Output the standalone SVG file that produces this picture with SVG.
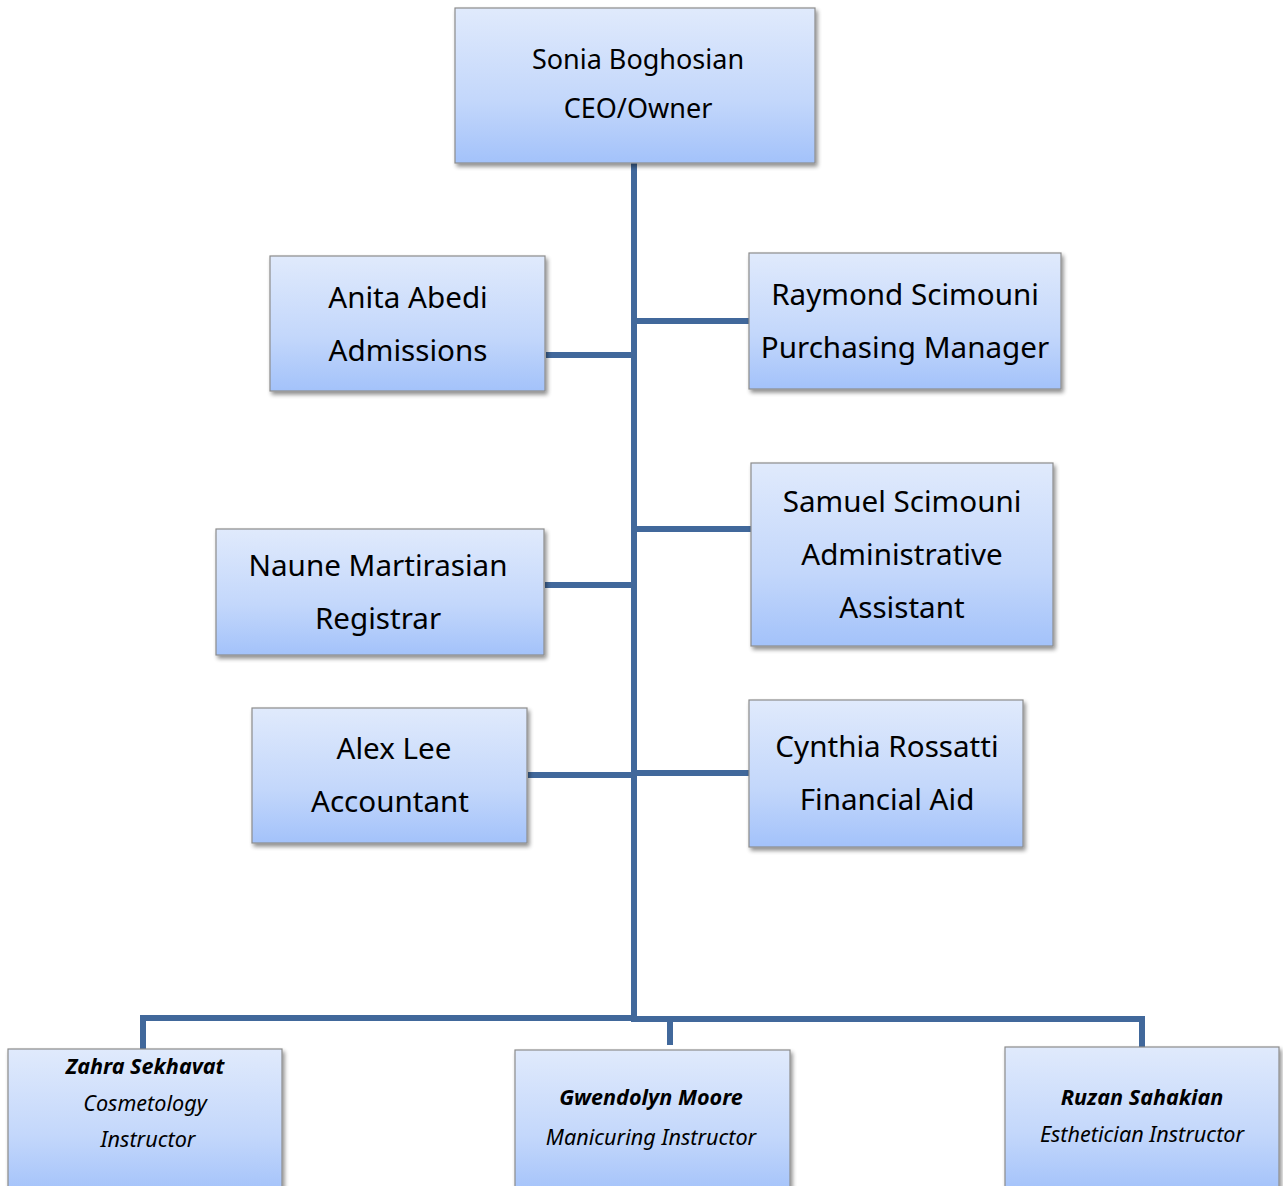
<svg xmlns="http://www.w3.org/2000/svg" width="1283" height="1186" viewBox="0 0 1283 1186">
<defs>
<linearGradient id="g" x1="0" y1="0" x2="0" y2="1">
<stop offset="0" stop-color="#e0eafc"/>
<stop offset="0.6" stop-color="#c3d7fb"/>
<stop offset="1" stop-color="#a3c2fa"/>
</linearGradient>
<filter id="sh" x="-5%" y="-5%" width="115%" height="120%">
<feGaussianBlur in="SourceAlpha" stdDeviation="2"/>
<feOffset dx="2" dy="3"/>
<feComponentTransfer><feFuncA type="linear" slope="0.45"/></feComponentTransfer>
<feMerge><feMergeNode/><feMergeNode in="SourceGraphic"/></feMerge>
</filter>
</defs>
<style>
.box{fill:url(#g);stroke:#8c8c8c;stroke-width:1.2;filter:url(#sh)}
.t{font-family:"Noto Sans","Open Sans",sans-serif;font-size:29.6px;fill:#000;text-anchor:middle}
.ceo{font-size:27px}
.s{font-family:"Noto Sans","Open Sans",sans-serif;font-size:21.6px;font-style:italic;fill:#000;text-anchor:middle}
.b{font-weight:bold}
.c{fill:none;stroke:#41689b;stroke-width:6}
</style>
<rect width="1283" height="1186" fill="#fff"/>
<g id="connectors">
<line class="c" x1="634" y1="163" x2="634" y2="1020"/>
<line class="c" x1="546" y1="355" x2="634" y2="355"/>
<line class="c" x1="634" y1="321" x2="749" y2="321"/>
<line class="c" x1="545" y1="585" x2="634" y2="585"/>
<line class="c" x1="634" y1="529" x2="751" y2="529"/>
<line class="c" x1="528" y1="775" x2="634" y2="775"/>
<line class="c" x1="634" y1="773" x2="749" y2="773"/>
<polyline class="c" points="143,1049 143,1018 637,1018"/>
<polyline class="c" points="631,1019 1142,1019 1142,1048"/>
<line class="c" x1="670" y1="1019" x2="670" y2="1045"/>
</g>
<g id="ceo">
<rect class="box" x="455" y="8" width="360" height="155"/>
<text class="t ceo" x="638" y="69">Sonia Boghosian</text>
<text class="t ceo" x="638" y="118">CEO/Owner</text>
</g>
<g id="anita">
<rect class="box" x="270" y="256" width="275" height="135"/>
<text class="t" x="408" y="308">Anita Abedi</text>
<text class="t" x="408" y="361">Admissions</text>
</g>
<g id="raymond">
<rect class="box" x="749" y="253" width="312" height="136"/>
<text class="t" x="905" y="305">Raymond Scimouni</text>
<text class="t" x="905" y="358">Purchasing Manager</text>
</g>
<g id="samuel">
<rect class="box" x="751" y="463" width="302" height="183"/>
<text class="t" x="902" y="512">Samuel Scimouni</text>
<text class="t" x="902" y="565">Administrative</text>
<text class="t" x="902" y="618">Assistant</text>
</g>
<g id="naune">
<rect class="box" x="216" y="529" width="328" height="126"/>
<text class="t" x="378" y="576">Naune Martirasian</text>
<text class="t" x="378" y="629">Registrar</text>
</g>
<g id="alex">
<rect class="box" x="252" y="708" width="275" height="135"/>
<text class="t" x="394" y="759">Alex Lee</text>
<text class="t" x="390" y="812">Accountant</text>
</g>
<g id="cynthia">
<rect class="box" x="749" y="700" width="274" height="147"/>
<text class="t" x="887" y="757">Cynthia Rossatti</text>
<text class="t" x="887" y="810">Financial Aid</text>
</g>
<g id="zahra">
<rect class="box" x="8" y="1049" width="274" height="145"/>
<text class="s b" x="145" y="1074">Zahra Sekhavat</text>
<text class="s" x="145" y="1111">Cosmetology</text>
<text class="s" x="148" y="1147">Instructor</text>
</g>
<g id="gwendolyn">
<rect class="box" x="515" y="1050" width="275" height="145"/>
<text class="s b" x="651" y="1105">Gwendolyn Moore</text>
<text class="s" x="651" y="1145">Manicuring Instructor</text>
</g>
<g id="ruzan">
<rect class="box" x="1005" y="1047" width="274" height="145"/>
<text class="s b" x="1142" y="1105">Ruzan Sahakian</text>
<text class="s" x="1142" y="1142">Esthetician Instructor</text>
</g>
</svg>
